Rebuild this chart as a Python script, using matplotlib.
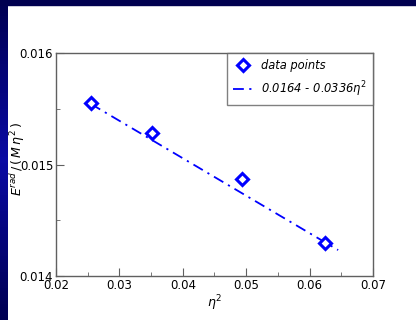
import numpy as np
import matplotlib
matplotlib.use('Agg')
import matplotlib.pyplot as plt
from matplotlib.ticker import MultipleLocator

# data
eta2 = [0.0255, 0.0351, 0.0493, 0.0624]
energy = [0.01555, 0.01528, 0.014867, 0.014293]
fit_a, fit_b = 0.0164, 0.0336
fit_x = [0.0255, 0.0645]

xlim = (0.02, 0.07)
ylim = (0.014, 0.016)
x_ticks = [0.02, 0.03, 0.04, 0.05, 0.06, 0.07]
y_ticks = [0.014, 0.015, 0.016]

W, H = 416, 320
fig = plt.figure(figsize=(W / 100, H / 100), dpi=100)
fig.patch.set_facecolor('white')

# slide background strips (navy gradient on the left, navy band on top)
grad = np.concatenate([np.linspace(0, 1, 50), np.linspace(1, 0, 50)])
cols = np.zeros((100, 1, 3))
cols[:, 0, 0] = 0.0 + 0.04 * grad
cols[:, 0, 1] = 0.0 + 0.04 * grad
cols[:, 0, 2] = 0.32 + 0.32 * grad
bg = fig.add_axes([0, 0, 8 / W, 1])
bg.imshow(cols, aspect='auto', extent=[0, 1, 0, 1])
bg.axis('off')
fig.patches.append(plt.Rectangle((0, 1 - 5 / H), 1, 5 / H, transform=fig.transFigure,
                                 color='#000050', zorder=0))

ax = fig.add_axes([56 / W, 1 - 276 / H, (373 - 56) / W, (276 - 53) / H])
fx = np.array(fit_x)
ax.plot(fx, fit_a - fit_b * fx, color='#0000ff', ls=(0, (6, 3, 1.2, 3)), lw=1.3,
        label='0.0164 - 0.0336$\\eta^2$')
ax.plot(eta2, energy, ls='none', marker='D', ms=6.5, mfc='white', mec='#0000ff', mew=2.2,
        label='data points')

ax.set_xlim(*xlim)
ax.set_ylim(*ylim)
ax.set_xticks(x_ticks)
ax.set_yticks(y_ticks)
ax.set_xticklabels(['%.2f' % v for v in x_ticks])
ax.set_yticklabels(['%.3f' % v for v in y_ticks])
ax.xaxis.set_minor_locator(MultipleLocator(0.005))
ax.yaxis.set_minor_locator(MultipleLocator(0.0005))
ax.tick_params(which='both', direction='in', top=False, right=False, labelsize=8.5,
               color='#606060', pad=2)
ax.tick_params(which='major', length=6)
ax.tick_params(which='minor', length=3)
for s in ax.spines.values():
    s.set_color('#606060')
    s.set_linewidth(1)

ax.set_xlabel('$\\eta^2$', fontsize=9, labelpad=1)
ax.set_ylabel('$E^{rad}\\,/\\,(\\,M\\,\\eta^2\\,)$', fontsize=9)
ax.yaxis.set_label_coords(-0.092, 0.525)

h, l = ax.get_legend_handles_labels()
leg = ax.legend(h[::-1], l[::-1], loc='upper right', frameon=True,
                fancybox=False, edgecolor='#606060', borderaxespad=0,
                handlelength=1.7, handletextpad=0.7, borderpad=0.55, labelspacing=0.6,
                prop={'style': 'italic', 'size': 8.3})
leg.get_frame().set_linewidth(1)

fig.savefig('out.png', dpi=100)
